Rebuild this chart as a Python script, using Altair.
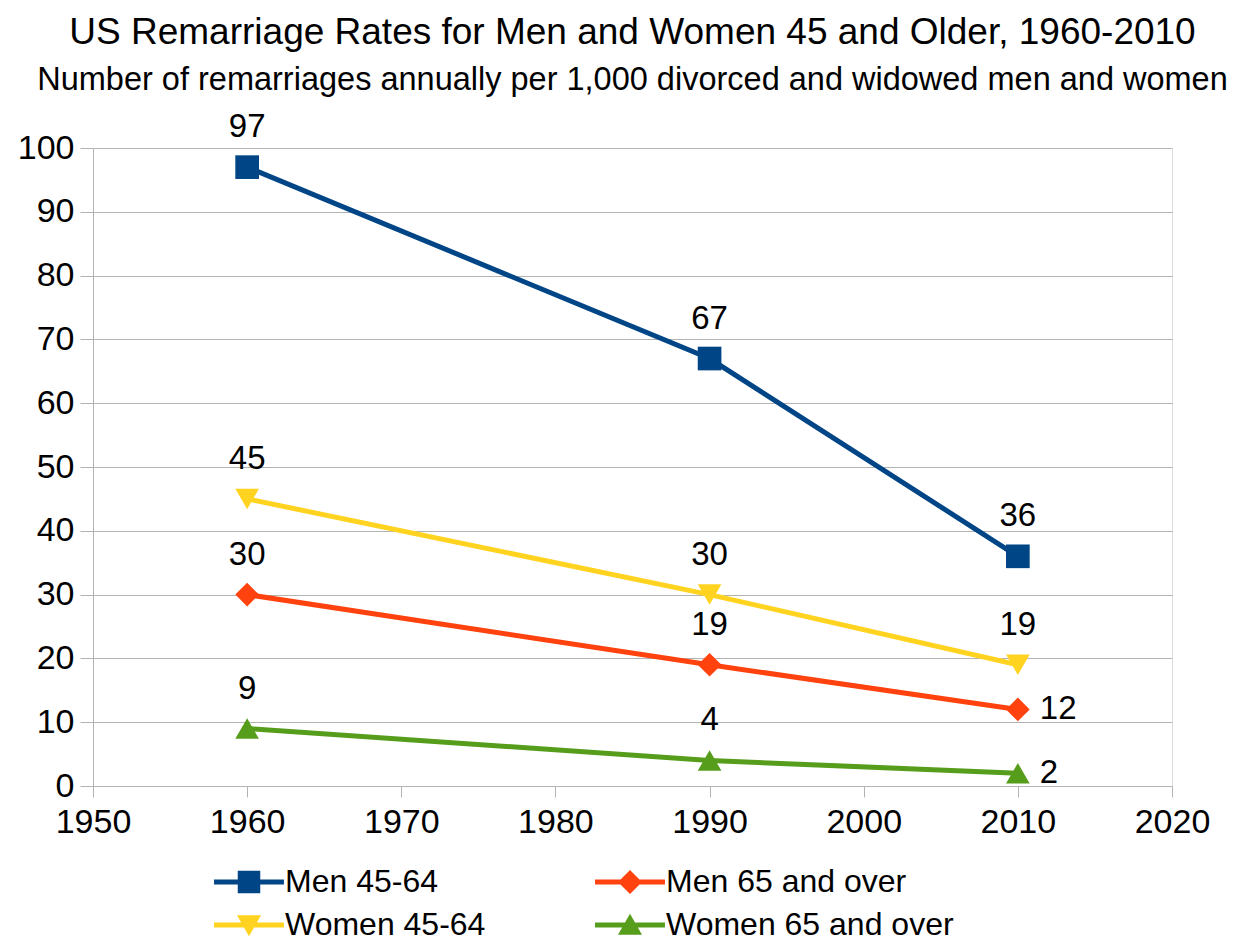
import altair as alt
import pandas as pd

years = [1960, 1990, 2010]
series_names = ["Men 45-64", "Men 65 and over", "Women 45-64", "Women 65 and over"]
men_45_64 = [97, 67, 36]
men_65_over = [30, 19, 12]
women_45_64 = [45, 30, 19]
women_65_over = [9, 4, 2]
x_ticks = [1950, 1960, 1970, 1980, 1990, 2000, 2010, 2020]
y_ticks = [0, 10, 20, 30, 40, 50, 60, 70, 80, 90, 100]

colors = ["#004586", "#ff420e", "#ffd320", "#579d1c"]
point_shapes = ["square", "diamond", "triangle-down", "triangle-up"]
legend_paths = [
    "M-2.33,-0.17H2.33V0.17H-2.33Z M-0.75,-0.75H0.75V0.75H-0.75Z",
    "M-2.33,-0.17H2.33V0.17H-2.33Z M0,-0.8L0.8,0L0,0.8L-0.8,0Z",
    "M-2.33,-0.17H2.33V0.17H-2.33Z M-0.8,-0.65L0.8,-0.65L0,0.75Z",
    "M-2.33,-0.17H2.33V0.17H-2.33Z M0,-0.75L0.8,0.65L-0.8,0.65Z",
]

rows = []
for name, vals in zip(series_names, [men_45_64, men_65_over, women_45_64, women_65_over]):
    for yr, v in zip(years, vals):
        rows.append({"year": yr, "value": v, "series": name})
df = pd.DataFrame(rows)

FONT = "Liberation Sans"
GRID = "#b3b3b3"

x_enc = alt.X("year:Q",
              scale=alt.Scale(domain=[1950, 2020], nice=False, zero=False),
              axis=alt.Axis(values=x_ticks, format="d", title=None, grid=False,
                            domainColor=GRID, tickColor=GRID, tickSize=11,
                            labelFontSize=34, labelFont=FONT, labelColor="black",
                            labelPadding=8, labelFlush=False))
y_enc = alt.Y("value:Q",
              scale=alt.Scale(domain=[0, 100], nice=False),
              axis=alt.Axis(values=y_ticks, title=None, grid=True, gridColor=GRID,
                            domainColor=GRID, tickColor=GRID, tickSize=13,
                            labelFontSize=34, labelFont=FONT, labelColor="black",
                            labelPadding=6))
color_nolegend = alt.Color("series:N", scale=alt.Scale(domain=series_names, range=colors), legend=None)

base = alt.Chart(df)

lines = base.mark_line(strokeWidth=5).encode(x=x_enc, y=y_enc, color=color_nolegend,
                                             detail="series:N")
points = base.mark_point(filled=True, size=560, opacity=1).encode(
    x="year:Q", y="value:Q", color=color_nolegend,
    shape=alt.Shape("series:N", scale=alt.Scale(domain=series_names, range=point_shapes), legend=None))

right_cond = "datum.year == 2010 && (datum.series == 'Men 65 and over' || datum.series == 'Women 65 and over')"
labels_above = base.transform_filter("!(" + right_cond + ")").mark_text(
    dy=-40, fontSize=33, font=FONT, color="black", baseline="middle", align="center"
).encode(x="year:Q", y="value:Q", text="value:Q")
labels_right = base.transform_filter(right_cond).mark_text(
    dx=22, fontSize=33, font=FONT, color="black", baseline="middle", align="left"
).encode(x="year:Q", y="value:Q", text="value:Q")

legend_cfg = dict(title=None, orient="none", legendX=140, legendY=718, direction="horizontal",
                  columns=2, columnPadding=109, rowPadding=11,
                  symbolSize=900, symbolStrokeWidth=0, symbolOpacity=1,
                  labelFontSize=32, labelFont=FONT, labelColor="black",
                  labelOffset=20, labelLimit=400)

legend_layer = base.transform_filter("false").mark_point(filled=True, opacity=1).encode(
    x="year:Q", y="value:Q",
    color=alt.Color("series:N", scale=alt.Scale(domain=series_names, range=colors),
                    legend=alt.Legend(**legend_cfg)),
    shape=alt.Shape("series:N", scale=alt.Scale(domain=series_names, range=legend_paths),
                    legend=alt.Legend(**legend_cfg)),
)

chart = alt.layer(lines, points, labels_above, labels_right, legend_layer).resolve_scale(
    color="independent", shape="independent"
).properties(
    width=1079, height=638,
    padding={"left": 85, "top": 140, "right": 58, "bottom": 156},
    autosize=alt.AutoSizeParams(type="none"),
    title=alt.TitleParams(
        text="US Remarriage Rates for Men and Women 45 and Older, 1960-2010",
        subtitle="Number of remarriages annually per 1,000 divorced and widowed men and women",
        fontSize=37, subtitleFontSize=32.5, font=FONT, subtitleFont=FONT,
        fontWeight="normal", color="black", subtitleColor="black",
        anchor="middle", offset=14, subtitlePadding=12,
    ),
).configure_view(stroke=GRID, strokeWidth=1.5).configure(background="white")

chart.save("out.html", embed_options={"renderer": "svg", "actions": False})
